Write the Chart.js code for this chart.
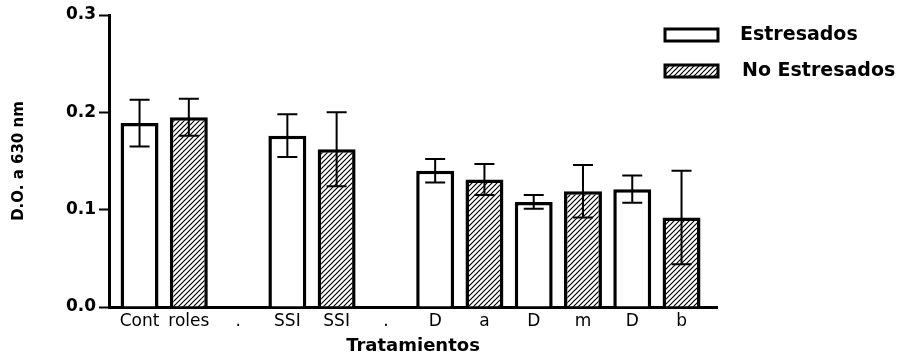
<!DOCTYPE html>
<html>
<head>
<meta charset="utf-8">
<script src="https://cdn.jsdelivr.net/npm/chart.js@4"></script>
<style>
  html, body { margin: 0; padding: 0; background: #fff; }
  #wrap { width: 910px; height: 355px; }
</style>
</head>
<body>
<div id="wrap"><canvas id="barChart" width="910" height="355"></canvas></div>
<script>
// data
const categories = ['Cont', 'roles', '.', 'SSI', 'SSI', '.', 'D', 'a', 'D', 'm', 'D', 'b'];
const estresados = [0.189, null, null, 0.176, null, null, 0.140, null, 0.108, null, 0.121, null];
const noEstresados = [null, 0.195, null, null, 0.162, null, null, 0.131, null, 0.119, null, 0.092];
const errEstresados = [0.024, null, null, 0.022, null, null, 0.012, null, 0.007, null, 0.014, null];
const errNoEstresados = [null, 0.019, null, null, 0.038, null, null, 0.016, null, 0.027, null, 0.048];
const yTicks = [0, 0.1, 0.2, 0.3];

// hatch pattern for the "No Estresados" bars
function makeHatch() {
  const c = document.createElement('canvas');
  c.width = 5; c.height = 5;
  const g = c.getContext('2d');
  g.fillStyle = '#fff';
  g.fillRect(0, 0, 5, 5);
  g.strokeStyle = '#000';
  g.lineWidth = 1.2;
  g.beginPath();
  g.moveTo(-1, 6); g.lineTo(6, -1);
  g.moveTo(-1, 1); g.lineTo(1, -1);
  g.moveTo(4, 6); g.lineTo(6, 4);
  g.stroke();
  return g.createPattern(c, 'repeat');
}
const hatch = makeHatch();

function toPoints(arr, err) {
  const pts = [];
  arr.forEach((v, i) => { if (v !== null) pts.push({ x: i, y: v, err: err[i] }); });
  return pts;
}

const font = "'DejaVu Sans', 'Liberation Sans', Arial, sans-serif";

// error bars
const errorBars = {
  id: 'errorBars',
  afterDatasetsDraw(chart) {
    const ctx = chart.ctx;
    const xs = chart.scales.x, ys = chart.scales.y;
    ctx.save();
    ctx.strokeStyle = '#000';
    ctx.lineWidth = 2;
    chart.data.datasets.forEach(ds => {
      ds.data.forEach(p => {
        const x = xs.getPixelForValue(p.x);
        const top = ys.getPixelForValue(p.y + p.err);
        const bot = ys.getPixelForValue(p.y - p.err);
        ctx.beginPath();
        ctx.moveTo(x, top); ctx.lineTo(x, bot);
        ctx.moveTo(x - 10, top); ctx.lineTo(x + 10, top);
        ctx.moveTo(x - 10, bot); ctx.lineTo(x + 10, bot);
        ctx.stroke();
      });
    });
    ctx.restore();
  }
};

// legend top right, boxes drawn like the bars
const sideLegend = {
  id: 'sideLegend',
  afterDraw(chart) {
    const ctx = chart.ctx;
    const rows = [35, 71];
    ctx.save();
    chart.data.datasets.forEach((ds, i) => {
      const y = rows[i];
      ctx.fillStyle = ds.backgroundColor;
      ctx.fillRect(665, y - 6, 53, 12);
      ctx.strokeStyle = '#000';
      ctx.lineWidth = 3;
      ctx.strokeRect(665, y - 6, 53, 12);
      ctx.fillStyle = '#000';
      ctx.font = 'bold 19px ' + font;
      ctx.textBaseline = 'middle';
      ctx.fillText(ds.label, i === 0 ? 740 : 742, y);
    });
    ctx.restore();
  }
};

new Chart(document.getElementById('barChart').getContext('2d'), {
  type: 'bar',
  data: {
    datasets: [{
      label: 'Estresados',
      data: toPoints(estresados, errEstresados),
      backgroundColor: '#fff',
      borderColor: '#000',
      borderWidth: 3.5,
      grouped: false
    }, {
      label: 'No Estresados',
      data: toPoints(noEstresados, errNoEstresados),
      backgroundColor: hatch,
      borderColor: '#000',
      borderWidth: 3.5,
      grouped: false
    }]
  },
  options: {
    responsive: false,
    animation: false,
    barPercentage: 0.77,
    categoryPercentage: 1,
    layout: { padding: { top: 15, right: 193, left: 0, bottom: 0 } },
    plugins: { legend: { display: false }, tooltip: { enabled: false } },
    scales: {
      x: {
        type: 'linear',
        offset: false,
        min: -0.62,
        max: 11.72,
        afterBuildTicks: s => { s.ticks = categories.map((c, i) => ({ value: i })); },
        afterFit: s => { s.height = 48; },
        grid: { display: false, drawTicks: false },
        border: { display: true, color: '#000', width: 3 },
        ticks: {
          autoSkip: false,
          maxRotation: 0,
          padding: 4,
          color: '#000',
          font: { family: font, size: 17 },
          callback: v => categories[v]
        },
        title: {
          display: true,
          text: 'Tratamientos',
          color: '#000',
          font: { family: font, size: 18, weight: 'bold', lineHeight: 1 },
          padding: { top: 0, bottom: 0 }
        }
      },
      y: {
        min: 0,
        max: 0.3,
        afterBuildTicks: s => { s.ticks = yTicks.map(v => ({ value: v })); },
        afterFit: s => { s.width = 109; },
        grid: { drawOnChartArea: false, drawTicks: true, tickLength: 10, tickWidth: 2, tickColor: '#000' },
        border: { display: true, color: '#000', width: 3 },
        ticks: {
          padding: 3,
          color: '#000',
          font: { family: font, size: 17, weight: 'bold' },
          callback: v => v.toFixed(1)
        },
        title: {
          display: true,
          text: 'D.O. a 630 nm',
          color: '#000',
          font: { family: font, size: 15, weight: 'bold' },
          padding: { top: 10, bottom: 0 }
        }
      }
    }
  },
  plugins: [errorBars, sideLegend]
});
</script>
</body>
</html>
